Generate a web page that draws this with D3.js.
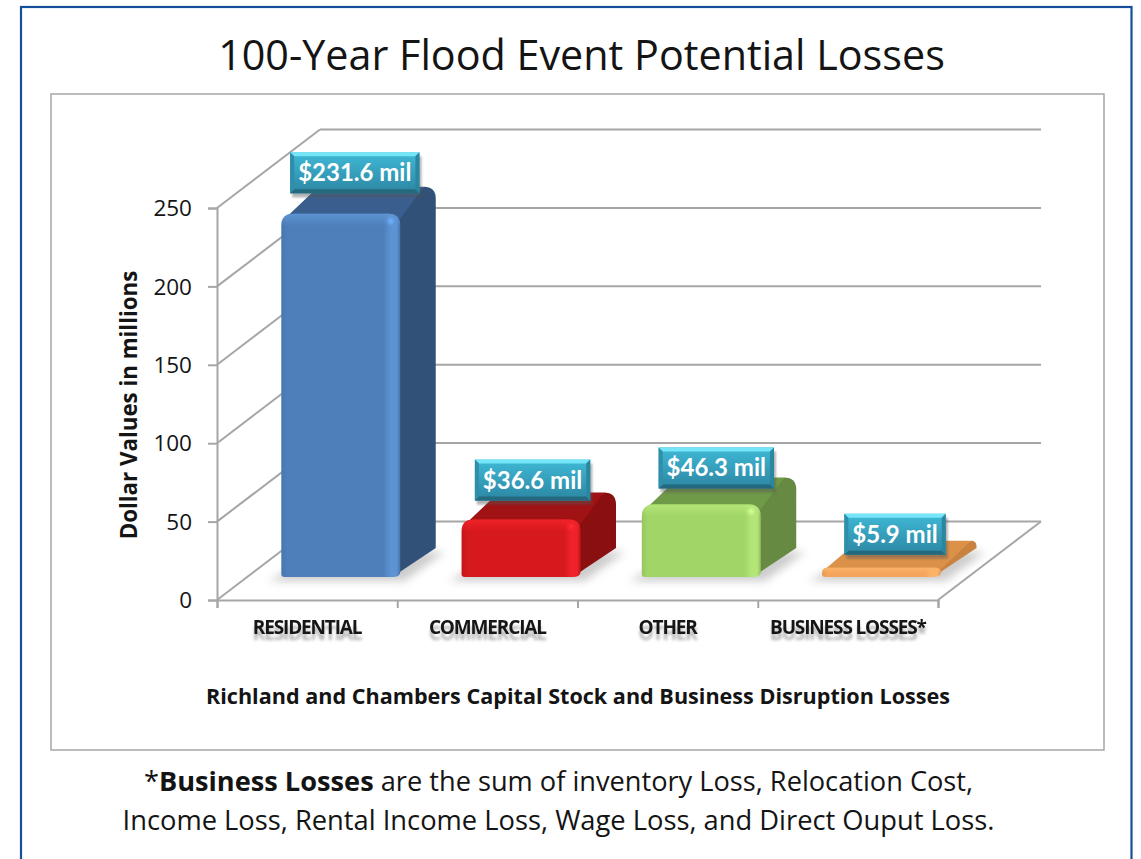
<!DOCTYPE html>
<html>
<head>
<meta charset="utf-8">
<script src="https://cdn.jsdelivr.net/npm/d3@7"></script>
<style>
  html, body { margin: 0; padding: 0; background: #fff; }
  text { font-family: "Open Sans", Lato, sans-serif; fill: #141414; }
</style>
</head>
<body>
<div id="svgcontainer"></div>
<script>
// chart data
const categories = ['RESIDENTIAL', 'COMMERCIAL', 'OTHER', 'BUSINESS LOSSES*']
const loss_values = [231.6, 36.6, 46.3, 5.9]
const y_ticks = [0, 50, 100, 150, 200, 250]

// colours per bar
const front_colors = ['#4e7fbb', '#d5191c', '#a2d568', '#f4a55b']
const light_colors = ['#5d93d3', '#ee2228', '#b3e578', '#fbb369']
const top_colors = ['#3a5f8f', '#a01214', '#6f9a48', '#dc9149']
const side_colors = ['#315178', '#8a0f10', '#668a42', '#c9823f']

// the labels were dragged by hand in the original, so they sit a bit unevenly
const label_nudge = [[14, -41], [11.5, -39.5], [15, -36.5], [13.5, -33.5]]

const svg_width = 1141, svg_height = 859
const plot = { left: 217, right: 938, floor: 600, top: 208 }
const wall = { dx: 103, dy: 78.5 }
const bar = { depth_front: 0.293, depth_back: 0.637, width: 119, nudge: 3.5 }

const svg = d3.select('#svgcontainer').append('svg')
    .attr('width', svg_width)
    .attr('height', svg_height)
    .style('display', 'block')

const defs = svg.append('defs')
defs.append('filter').attr('id', 'soft').attr('x', '-30%').attr('y', '-60%').attr('width', '160%').attr('height', '220%')
    .append('feGaussianBlur').attr('stdDeviation', 4)
defs.append('filter').attr('id', 'softer').attr('x', '-10%').attr('y', '-50%').attr('width', '120%').attr('height', '200%')
    .append('feGaussianBlur').attr('stdDeviation', 1.1)
defs.append('filter').attr('id', 'spot').attr('x', '-100%').attr('y', '-100%').attr('width', '300%').attr('height', '300%')
    .append('feGaussianBlur').attr('stdDeviation', 1.4)
// faded echo under the category labels
defs.append('filter').attr('id', 'echo').attr('x', '-10%').attr('y', '-30%').attr('width', '120%').attr('height', '190%')
    .append('feDropShadow').attr('dx', 0).attr('dy', 6).attr('stdDeviation', 1.6)
    .attr('flood-color', '#000').attr('flood-opacity', 0.3)

// scales
const yScale = d3.scaleLinear().domain([0, 250]).range([plot.floor, plot.top])
const xBand = d3.scaleBand().domain(categories).range([plot.left, plot.right])
const xEdges = d3.scaleLinear().domain([0, categories.length]).range([plot.left, plot.right])
const depthX = d3.scaleLinear().domain([0, 1]).range([0, wall.dx])
const depthY = d3.scaleLinear().domain([0, 1]).range([0, wall.dy])

// outer frame and chart area
svg.append('rect').attr('x', 21).attr('y', 7).attr('width', 1110.5).attr('height', 900)
    .attr('fill', '#fff').attr('stroke', '#154f9c').attr('stroke-width', 2.2)
svg.append('rect').attr('x', 51).attr('y', 94).attr('width', 1053).attr('height', 656)
    .attr('fill', '#fff').attr('stroke', '#a6a6a6').attr('stroke-width', 1.5)

svg.append('text')
    .attr('x', 581.5).attr('y', 70)
    .attr('text-anchor', 'middle')
    .attr('font-size', 41.3)
    .text('100-Year Flood Event Potential Losses')

/**------------------------------------------------------------------------
 *                           Walls and floor
 *------------------------------------------------------------------------**/
const grid = svg.append('g')
    .attr('fill', 'none')
    .attr('stroke', '#a6a6a6')
    .attr('stroke-width', 2)

y_ticks.forEach(function (t) {
    let py = yScale(t)
    // side wall
    grid.append('line')
        .attr('x1', plot.left).attr('y1', py)
        .attr('x2', plot.left + depthX(1)).attr('y2', py - depthY(1))
    // back wall
    grid.append('line')
        .attr('x1', plot.left + depthX(1)).attr('y1', py - depthY(1))
        .attr('x2', plot.right + depthX(1)).attr('y2', py - depthY(1))
})
grid.append('line')
    .attr('x1', plot.right).attr('y1', plot.floor)
    .attr('x2', plot.right + depthX(1)).attr('y2', plot.floor - depthY(1))

// y axis
const y_axis = svg.append('g')
    .attr('transform', 'translate(' + plot.left + ',0)')
    .call(d3.axisLeft(yScale).tickValues(y_ticks).tickSize(9).tickPadding(16))
y_axis.selectAll('path, line').attr('stroke', '#a6a6a6').attr('stroke-width', 2)
y_axis.selectAll('text').attr('font-size', 22.5).attr('font-family', '"Open Sans"').attr('dy', '0.34em')

// x axis, ticks sit between the categories
const x_axis = svg.append('g')
    .attr('transform', 'translate(0,' + plot.floor + ')')
    .call(d3.axisBottom(xEdges).ticks(categories.length).tickSize(8).tickFormat(''))
x_axis.selectAll('path, line').attr('stroke', '#a6a6a6').attr('stroke-width', 2)

/**------------------------------------------------------------------------
 *                           Bars
 *------------------------------------------------------------------------**/
function build_bar(g, i) {
    let value = loss_values[i]
    let x0 = xBand(categories[i]) + (xBand.bandwidth() - bar.width) / 2 + bar.nudge
    let x1 = x0 + bar.width
    let px = function (x, depth) { return x + depthX(depth) }
    let py = function (v, depth) { return yScale(v) - depthY(depth) }

    let fl = px(x0, bar.depth_front), fr = px(x1, bar.depth_front)
    let bl = px(x0, bar.depth_back), br = px(x1, bar.depth_back)
    let ft = py(value, bar.depth_front), fb = py(0, bar.depth_front)
    let bt = py(value, bar.depth_back), bb = py(0, bar.depth_back)
    let r = Math.min(12, (fb - ft) * 0.6)

    // shadow on the floor
    g.append('path')
        .attr('d', 'M' + (fl - 13) + ',' + (fb + 4) + 'L' + (fr + 4) + ',' + (fb + 4)
            + 'L' + (br + 9) + ',' + (bb + 2) + 'L' + (bl + 10) + ',' + bb + 'Z')
        .attr('fill', '#9a9a9a')
        .attr('opacity', 0.5)
        .attr('filter', 'url(#soft)')

    // side face
    g.append('path')
        .attr('d', 'M' + (fr - 8) + ',' + ft + 'L' + (br - r) + ',' + bt
            + 'Q' + br + ',' + bt + ' ' + br + ',' + (bt + r)
            + 'L' + br + ',' + (bb - 2) + 'L' + (fr - 8) + ',' + fb + 'Z')
        .attr('fill', side_colors[i])

    // top face, rounded where it meets the sides
    g.append('path')
        .attr('d', 'M' + (fl + 1) + ',' + (ft + r * 0.6)
            + 'L' + (bl - r * 0.3) + ',' + (bt + r * 0.4)
            + 'Q' + bl + ',' + bt + ' ' + (bl + r) + ',' + bt
            + 'L' + (br - r) + ',' + bt
            + 'L' + (fr - 2) + ',' + (ft + r * 0.6) + 'Z')
        .attr('fill', top_colors[i])

    // front face, rounded on top and a little at the bottom
    let front = 'M' + fl + ',' + (fb - 3) + 'L' + fl + ',' + (ft + r)
        + 'Q' + fl + ',' + ft + ' ' + (fl + r) + ',' + ft
        + 'L' + (fr - r) + ',' + ft
        + 'Q' + fr + ',' + ft + ' ' + fr + ',' + (ft + r)
        + 'L' + fr + ',' + (fb - 5)
        + 'Q' + fr + ',' + fb + ' ' + (fr - 8) + ',' + fb
        + 'L' + (fl + 3) + ',' + fb
        + 'Q' + fl + ',' + fb + ' ' + fl + ',' + (fb - 3) + 'Z'

    let grad = defs.append('linearGradient').attr('id', 'front' + i)
    grad.append('stop').attr('offset', 0).attr('stop-color', d3.color(front_colors[i]).darker(0.2))
    grad.append('stop').attr('offset', 0.05).attr('stop-color', front_colors[i])
    grad.append('stop').attr('offset', 0.86).attr('stop-color', front_colors[i])
    grad.append('stop').attr('offset', 0.92).attr('stop-color', light_colors[i])
    grad.append('stop').attr('offset', 0.97).attr('stop-color', light_colors[i])
    grad.append('stop').attr('offset', 1).attr('stop-color', d3.color(front_colors[i]).darker(0.3))

    g.append('path').attr('d', front).attr('fill', 'url(#front' + i + ')')

    // soft lighter edge under the top, and the little glint on the corner
    let fade = defs.append('linearGradient').attr('id', 'fade' + i).attr('x2', 0).attr('y2', 1)
    fade.append('stop').attr('offset', 0).attr('stop-color', light_colors[i])
    fade.append('stop').attr('offset', 1).attr('stop-color', light_colors[i]).attr('stop-opacity', 0)
    g.append('path')
        .attr('d', 'M' + fl + ',' + (ft + r) + 'Q' + fl + ',' + ft + ' ' + (fl + r) + ',' + ft
            + 'L' + (fr - r) + ',' + ft + 'Q' + fr + ',' + ft + ' ' + fr + ',' + (ft + r) + 'Z')
        .attr('fill', 'url(#fade' + i + ')')
    if (r >= 10) {
        g.append('circle')
            .attr('cx', fr - r * 0.8).attr('cy', ft + r * 0.6).attr('r', 3)
            .attr('fill', d3.color(light_colors[i]).brighter(0.5))
            .attr('filter', 'url(#spot)')
    }
}

const bars = svg.append('g')
categories.forEach(function (c, i) { build_bar(bars.append('g'), i) })

/**------------------------------------------------------------------------
 *                           Value labels
 *------------------------------------------------------------------------**/
function build_label(g, i) {
    let value = loss_values[i]
    let x0 = xBand(categories[i]) + (xBand.bandwidth() - bar.width) / 2 + bar.nudge + depthX(bar.depth_front)
    let cx = x0 + bar.width / 2 + label_nudge[i][0]
    let cy = yScale(value) - depthY(bar.depth_front) + label_nudge[i][1]

    let label = g.append('text')
        .attr('x', cx).attr('y', cy + 8.5)
        .attr('text-anchor', 'middle')
        .style('font-family', 'Lato')
        .attr('font-size', 24)
        .attr('font-weight', 700)
        .style('fill', '#fff')
        .text('$' + value + ' mil')

    let w = label.node().getComputedTextLength() + 16
    let h = 41, b = 4
    let l = cx - w / 2, rr = cx + w / 2, t = cy - h / 2, m = cy + h / 2

    let shade = g.insert('g', 'text')
    shade.append('rect').attr('x', l + 2).attr('y', t + 4).attr('width', w).attr('height', h)
        .attr('fill', '#555').attr('opacity', 0.45).attr('filter', 'url(#softer)')

    let grad = defs.append('linearGradient').attr('id', 'label' + i).attr('x2', 0).attr('y2', 1)
    grad.append('stop').attr('offset', 0).attr('stop-color', '#3fb9d6')
    grad.append('stop').attr('offset', 1).attr('stop-color', '#2c86a2')

    shade.append('rect').attr('x', l).attr('y', t).attr('width', w).attr('height', h).attr('fill', 'url(#label' + i + ')')
    let poly = function (pts, fill) { shade.append('polygon').attr('points', pts.join(' ')).attr('fill', fill) }
    poly([[l, t], [rr, t], [rr - b, t + b], [l + b, t + b]], '#74e6f7')
    poly([[l, m], [rr, m], [rr - b, m - b], [l + b, m - b]], '#236a7f')
    poly([[l, t], [l + b, t + b], [l + b, m - b], [l, m]], '#2f8ea9')
    poly([[rr, t], [rr - b, t + b], [rr - b, m - b], [rr, m]], '#2b86a0')
}

const labels = svg.append('g')
categories.forEach(function (c, i) { build_label(labels.append('g'), i) })

/**------------------------------------------------------------------------
 *                           Text around the plot
 *------------------------------------------------------------------------**/
const cat_labels = svg.append('g')
categories.forEach(function (c) {
    cat_labels.append('text')
        .attr('x', xBand(c) + xBand.bandwidth() / 2).attr('y', 634)
        .attr('text-anchor', 'middle')
        .attr('font-size', 19)
        .attr('font-weight', 700)
        .attr('letter-spacing', -1.15)
        .attr('filter', 'url(#echo)')
        .text(c)
})

svg.append('text')
    .attr('transform', 'translate(137,405) rotate(-90)')
    .attr('text-anchor', 'middle')
    .attr('font-size', 22.3)
    .attr('font-weight', 700)
    .text('Dollar Values in millions')

svg.append('text')
    .attr('x', 578).attr('y', 704)
    .attr('text-anchor', 'middle')
    .attr('font-size', 21.6)
    .attr('font-weight', 700)
    .text('Richland and Chambers Capital Stock and Business Disruption Losses')

const note_one = svg.append('text')
    .attr('x', 558.5).attr('y', 791)
    .attr('text-anchor', 'middle')
    .attr('font-size', 27.2)
note_one.append('tspan').text('*')
note_one.append('tspan').attr('font-weight', 700).text('Business Losses')
note_one.append('tspan').text(' are the sum of inventory Loss, Relocation Cost,')

svg.append('text')
    .attr('x', 558.5).attr('y', 830)
    .attr('text-anchor', 'middle')
    .attr('font-size', 27.3)
    .text('Income Loss, Rental Income Loss, Wage Loss, and Direct Ouput Loss.')
</script>
</body>
</html>
